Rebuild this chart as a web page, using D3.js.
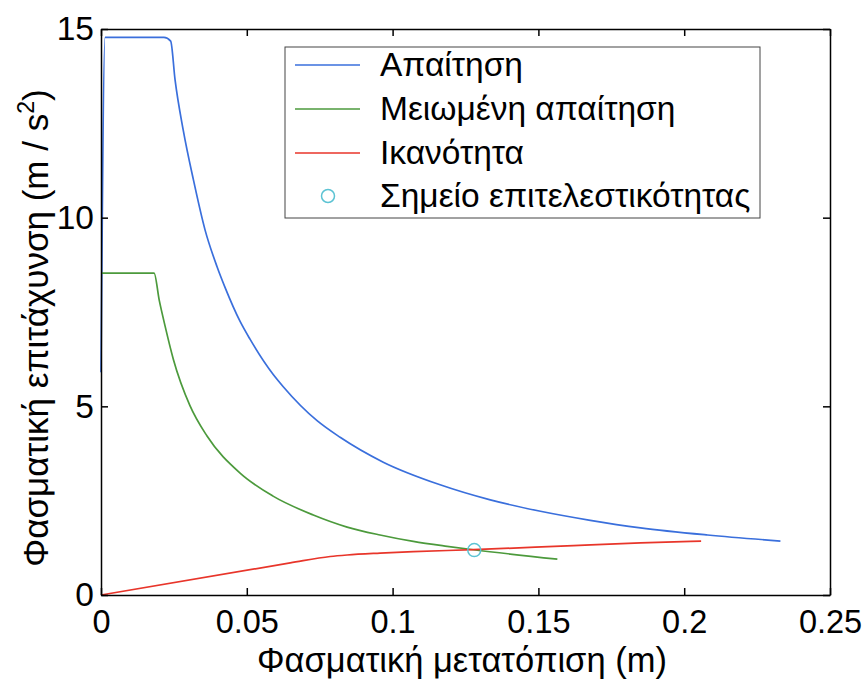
<!DOCTYPE html>
<html>
<head>
<meta charset="utf-8">
<script src="https://cdn.jsdelivr.net/npm/d3@7"></script>
<style>
  html, body { margin: 0; padding: 0; background: #fff; }
  svg text { font-family: "Liberation Sans", Arial, Helvetica, sans-serif; fill: #000; }
</style>
</head>
<body>
<svg id="chart" width="868" height="683"></svg>
<script>
// ---- Data ----
const demandSd = [0, 0.0014, 0.0216, 0.0239, 0.0254, 0.0282, 0.0317, 0.0357, 0.0398, 0.0426, 0.0477, 0.0511, 0.0590, 0.0625, 0.0741, 0.0820, 0.0968, 0.1163, 0.1335, 0.1507, 0.1678, 0.1850, 0.2080, 0.2330];
const demandSa = [5.9, 14.78, 14.78, 14.68, 13.65, 12.32, 11.0, 9.67, 8.70, 8.14, 7.25, 6.78, 5.85, 5.52, 4.62, 4.18, 3.52, 2.92, 2.52, 2.22, 1.98, 1.78, 1.59, 1.43];

const reducedSd = [0, 0.0182, 0.0200, 0.0220, 0.0248, 0.0305, 0.0363, 0.0477, 0.0590, 0.0728, 0.0844, 0.0957, 0.1071, 0.1187, 0.1277, 0.1565];
const reducedSa = [8.53, 8.53, 7.80, 7.12, 6.25, 5.02, 4.22, 3.23, 2.62, 2.12, 1.80, 1.59, 1.42, 1.29, 1.20, 0.95];

const capacitySd = [0, 0.0649, 0.0786, 0.0844, 0.0957, 0.1071, 0.1277, 0.1620, 0.1850, 0.2058];
const capacitySa = [0, 0.85, 1.02, 1.06, 1.11, 1.15, 1.20, 1.31, 1.38, 1.43];

const perfSd = [0.128];
const perfSa = [1.19];

const xTicks = [0, 0.05, 0.1, 0.15, 0.2, 0.25];
const xTickLabels = ["0", "0.05", "0.1", "0.15", "0.2", "0.25"];
const yTicks = [0, 5, 10, 15];
const yTickLabels = ["0", "5", "10", "15"];

const legendLabels = ["Απαίτηση", "Μειωμένη απαίτηση", "Ικανότητα", "Σημείο επιτελεστικότητας"];
const xLabel = "Φασματική μετατόπιση (m)";
const yLabelMain = "Φασματική επιτάχυνση (m / s";

// ---- Layout ----
const padL = 101, padR = 830, padT = 29, padB = 595;
const colors = { demand: "#3a6fdc", reduced: "#4c9a3c", capacity: "#e8352a", perf: "#5cc3d3" };

const svg = d3.select("#chart");
const x = d3.scaleLinear().domain([0, 0.25]).range([padL, padR]);
const y = d3.scaleLinear().domain([0, 15]).range([padB, padT]);

// Curves
const smooth = d3.line().curve(d3.curveMonotoneX).x(d => x(d[0])).y(d => y(d[1]));
function series(sd, sa) { return sd.map((v, i) => [v, sa[i]]); }

const g = svg.append("g");
g.append("path").datum(series(demandSd, demandSa)).attr("d", smooth)
  .attr("fill", "none").attr("stroke", colors.demand).attr("stroke-width", 1.7);
g.append("path").datum(series(reducedSd, reducedSa)).attr("d", smooth)
  .attr("fill", "none").attr("stroke", colors.reduced).attr("stroke-width", 1.7);
g.append("path").datum(series(capacitySd, capacitySa)).attr("d", smooth)
  .attr("fill", "none").attr("stroke", colors.capacity).attr("stroke-width", 1.7);
g.selectAll("circle.perf").data(series(perfSd, perfSa)).enter().append("circle")
  .attr("class", "perf")
  .attr("cx", d => x(d[0])).attr("cy", d => y(d[1])).attr("r", 6.5)
  .attr("fill", "none").attr("stroke", colors.perf).attr("stroke-width", 1.5);

// Axes box & ticks
const tickLen = 7;
const axB = d3.axisBottom(x).tickValues(xTicks).tickSizeInner(-tickLen).tickSizeOuter(0)
  .tickFormat((d, i) => xTickLabels[i]).tickPadding(15);
const axT = d3.axisTop(x).tickValues(xTicks).tickSizeInner(-tickLen).tickSizeOuter(0).tickFormat("");
const axL = d3.axisLeft(y).tickValues(yTicks).tickSizeInner(-tickLen).tickSizeOuter(0)
  .tickFormat((d, i) => yTickLabels[i]).tickPadding(7);
const axR = d3.axisRight(y).tickValues(yTicks).tickSizeInner(-tickLen).tickSizeOuter(0).tickFormat("");

function styleAxis(sel, size) {
  sel.select(".domain").attr("stroke", "#000").attr("stroke-width", 1.5);
  sel.selectAll(".tick line").attr("stroke", "#000").attr("stroke-width", 1.5);
  sel.selectAll(".tick text").attr("font-size", size).attr("fill", "#000")
    .style("font-family", '"Liberation Sans", Arial, sans-serif');
}
svg.append("g").attr("transform", `translate(0,${padB})`).call(axB).call(styleAxis, 32.5);
svg.append("g").attr("transform", `translate(0,${padT})`).call(axT).call(styleAxis, 32.5);
svg.append("g").attr("transform", `translate(${padL},0)`).call(axL).call(styleAxis, 33.5);
svg.append("g").attr("transform", `translate(${padR},0)`).call(axR).call(styleAxis, 33.5);

// Axis labels
svg.append("text").attr("x", 462).attr("y", 672)
  .attr("text-anchor", "middle").attr("font-size", 34.5).text(xLabel);

const yl = svg.append("text").attr("transform", `translate(48,328) rotate(-90)`)
  .attr("text-anchor", "middle").attr("font-size", 35);
yl.append("tspan").text(yLabelMain);
yl.append("tspan").attr("font-size", 23).attr("dy", -14).text("2");
yl.append("tspan").attr("dy", 14).text(")");

// Legend
const lg = svg.append("g");
lg.append("rect").attr("x", 285).attr("y", 47).attr("width", 475).attr("height", 171)
  .attr("fill", "#fff").attr("stroke", "#444").attr("stroke-width", 1);
const rowY = [65, 109, 153, 196];
const legColors = [colors.demand, colors.reduced, colors.capacity];
legColors.forEach((c, i) => {
  lg.append("line").attr("x1", 295).attr("x2", 360).attr("y1", rowY[i]).attr("y2", rowY[i])
    .attr("stroke", c).attr("stroke-width", 1.7);
});
lg.append("circle").attr("cx", 328).attr("cy", rowY[3]).attr("r", 6.5)
  .attr("fill", "none").attr("stroke", colors.perf).attr("stroke-width", 1.5);
legendLabels.forEach((t, i) => {
  lg.append("text").attr("x", 380).attr("y", rowY[i] + 11).attr("font-size", 33.5).text(t);
});
</script>
</body>
</html>
